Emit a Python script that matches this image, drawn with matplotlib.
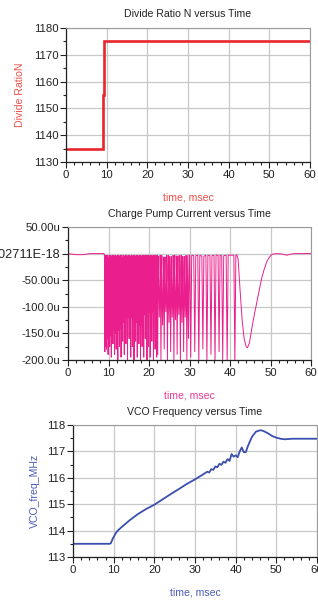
import numpy as np
import matplotlib
matplotlib.use("Agg")
import matplotlib.pyplot as plt
from matplotlib.ticker import MultipleLocator, FixedLocator

plt.rcParams['font.family'] = ['Liberation Sans', 'DejaVu Sans']

# ---------------- data ----------------
# Panel 1: divide ratio N
n_time = [0, 9.0, 9.0, 9.3, 9.3, 60]
n_ratio = [1135, 1135, 1155, 1155, 1175, 1175]

# Panel 2: charge pump current (uA) - baseline / tail pieces
cp_pre_t = [0, 1.0, 2.0, 3.5, 4.5, 5.5, 8.9]
cp_pre_i = [0, -1, -2, -2, -1, 0, 0]
cp_post_t = [41.65, 42.0, 42.5, 43.0, 43.5, 44.0, 44.3, 44.8, 45.4, 46.0, 46.6,
             47.2, 47.8, 48.5, 49.2, 49.9, 50.5, 51.5, 53.0, 54.0, 55.0, 56.0, 60.0]
cp_post_i = [-2, -10, -70, -125, -160, -175, -177, -168, -140, -115, -92,
             -68, -47, -28, -13, -5, -1, 0, -1, -3, -1, 0, 0]
# charge pump pulses: time (msec), depth (uA), level between pulses (uA)
cp_pulse_t = [9.1, 9.3, 9.5, 9.7, 9.9, 10.1, 10.3, 10.5, 10.7, 10.9, 11.1, 11.3, 11.5,
              11.7, 11.9, 12.1, 12.3, 12.5, 12.7, 12.9, 13.1, 13.3, 13.5, 13.7, 13.9,
              14.1, 14.3, 14.5, 14.7, 14.9, 15.1, 15.3, 15.5, 15.7, 15.9, 16.1, 16.3,
              16.5, 16.7, 16.9, 17.1, 17.3, 17.5, 17.7, 17.9, 18.1, 18.3, 18.5, 18.7,
              18.9, 19.1, 19.3, 19.5, 19.7, 19.9, 20.1, 20.3, 20.5, 20.7, 20.9, 21.1,
              21.3, 21.5, 21.7, 21.9,
              22.15, 22.55, 22.95, 23.35, 23.75, 24.15, 24.55, 24.95, 25.35, 25.75,
              26.15, 26.55, 26.95, 27.35, 27.75, 28.15, 28.55, 28.95, 29.35, 29.75,
              30.3, 31.3, 32.3, 33.3, 34.3, 35.3, 36.3, 37.3, 38.2, 39.3, 41.2]
cp_pulse_depth = [-185, -175, -180, -160, -190, -150, -175, -155, -195, -150, -170, -145, -190,
                  -150, -180, -140, -200, -145, -175, -140, -195, -135, -165, -130, -190,
                  -125, -170, -120, -200, -120, -160, -118, -195, -120, -175, -125, -200,
                  -125, -165, -130, -195, -135, -170, -135, -200, -135, -175, -120, -195,
                  -115, -160, -110, -200, -110, -175, -110, -195, -105, -165, -110, -200,
                  -105, -180, -110, -195,
                  -190, -120, -200, -135, -180, -110, -200, -130, -185, -120,
                  -205, -125, -190, -115, -200, -130, -185, -120, -200, -160,
                  -195, -185, -205, -180, -200, -190, -205, -185, -200, -205, -205]
cp_pulse_top = [-3, -5, -25, -3, -8, -30, -3, -12, -4, -35, -3, -6, -20,
                -3, -40, -5, -3, -15, -4, -30, -3, -8, -22, -3, -35,
                -5, -3, -40, -4, -10, -3, -30, -5, -3, -25, -6, -3,
                -35, -4, -12, -3, -40, -5, -3, -20, -4, -35, -3, -8,
                -30, -3, -15, -4, -40, -3, -10, -25, -3, -6, -35, -3,
                -20, -4, -30, -3,
                -5, -40, -3, -35, -6, -45, -3, -30, -5, -40,
                -3, -35, -4, -45, -3, -30, -5, -40, -3, -3,
                -3, -4, -3, -5, -3, -4, -3, -3, -4, -3, -3]

# Panel 3: VCO frequency (MHz)
vco_t = [0, 9.0, 9.3, 9.8, 10.5, 11.0, 12.0, 13.0, 14.0, 16.0, 18.0, 20.0, 22.0, 24.0,
         26.0, 28.0, 30.0, 32.0, 33.0, 33.5, 34.0, 34.5, 35.0, 35.5, 36.0, 36.5, 37.0,
         37.5, 38.0, 38.5, 39.0, 39.5, 40.0, 40.5, 41.0, 41.5, 42.0, 42.5, 43.0, 44.0,
         45.0, 46.0, 46.5, 47.0, 48.0, 49.0, 50.0, 51.0, 52.0, 53.0, 54.0, 60.0]
vco_f = [113.5, 113.5, 113.52, 113.7, 113.9, 114.0, 114.14, 114.27, 114.4, 114.63, 114.82,
         114.98, 115.18, 115.38, 115.57, 115.77, 115.94, 116.13, 116.23, 116.2, 116.33,
         116.3, 116.43, 116.4, 116.53, 116.49, 116.61, 116.57, 116.71, 116.64, 116.9,
         116.8, 116.85, 116.78, 117.0, 117.15, 116.97, 116.97, 117.2, 117.55, 117.75,
         117.8, 117.79, 117.76, 117.68, 117.58, 117.52, 117.48, 117.46, 117.47, 117.48, 117.48]

cp_tick_vals = [50, 0, -50, -100, -150, -200]
cp_tick_labels = ['50.00u', '-1.02711E-18', '-50.00u', '-100.0u', '-150.0u', '-200.0u']

# ---------------- build charge pump waveform ----------------
cp_t = list(cp_pre_t)
cp_i = list(cp_pre_i)
n = len(cp_pulse_t)
for k in range(n):
    gaps = []
    if k > 0:
        gaps.append(cp_pulse_t[k] - cp_pulse_t[k - 1])
    if k < n - 1:
        gaps.append(cp_pulse_t[k + 1] - cp_pulse_t[k])
    hw = min(0.25, 0.5 * min(gaps))
    cp_t += [cp_pulse_t[k] - hw, cp_pulse_t[k], cp_pulse_t[k] + hw]
    cp_i += [cp_pulse_top[k], cp_pulse_depth[k], cp_pulse_top[k]]
cp_t += cp_post_t
cp_i += cp_post_i

# ---------------- figure ----------------
W, H = 318, 601
fig = plt.figure(figsize=(W / 100, H / 100), dpi=100)

def px_axes(left, top, right, bottom):
    return fig.add_axes([left / W, 1 - bottom / H, (right - left) / W, (bottom - top) / H])

GRID = '#c8c8c8'
TICKFS = 8.2
TITLEFS = 7.6
LABELFS = 7.6

def style(ax):
    ax.grid(True, which='major', color=GRID, lw=0.9)
    ax.set_axisbelow(True)
    for s in ['top', 'right']:
        ax.spines[s].set_color('#9a9a9a')
        ax.spines[s].set_linewidth(0.8)
    for s in ['left', 'bottom']:
        ax.spines[s].set_color('#222222')
        ax.spines[s].set_linewidth(0.9)
    ax.tick_params(which='major', direction='out', length=4, width=0.8,
                   color='#222222', labelsize=TICKFS, pad=1.5, labelcolor='#222222')
    ax.tick_params(which='minor', direction='out', length=2.5, width=0.8, color='#222222')
    ax.set_xlim(0, 60)
    ax.xaxis.set_major_locator(MultipleLocator(10))
    ax.xaxis.set_minor_locator(MultipleLocator(2))

# Panel 1
ax1 = px_axes(66, 28, 310, 162)
style(ax1)
ax1.plot(n_time, n_ratio, color='#e8262c', lw=1.9, solid_joinstyle='miter')
ax1.set_ylim(1130, 1180)
ax1.yaxis.set_major_locator(MultipleLocator(10))
ax1.yaxis.set_minor_locator(MultipleLocator(5))
ax1.set_title('Divide Ratio N versus Time', fontsize=TITLEFS, pad=8, color='#222222')
ax1.set_xlabel('time, msec', fontsize=LABELFS, color='#f0504a', labelpad=9)
ax1.set_ylabel('Divide RatioN', fontsize=LABELFS, color='#f0504a', labelpad=6.5)

# Panel 2
ax2 = px_axes(68, 227, 311, 360)
style(ax2)
ax2.plot(cp_t, cp_i, color='#ea1e8c', lw=0.7, solid_joinstyle='miter')
ax2.set_ylim(-200, 50)
ax2.yaxis.set_major_locator(FixedLocator(cp_tick_vals))
ax2.yaxis.set_minor_locator(MultipleLocator(25))
ax2.set_yticklabels(cp_tick_labels)
ax2.get_yticklabels()[1].set_fontsize(9.2)
ax2.set_title('Charge Pump Current versus Time', fontsize=TITLEFS, pad=7, color='#222222')
ax2.set_xlabel('time, msec', fontsize=LABELFS, color='#ea3a98', labelpad=9)

# Panel 3
ax3 = px_axes(73, 425, 317, 557)
style(ax3)
ax3.plot(vco_t, vco_f, color='#3a4fae', lw=1.3)
ax3.set_ylim(113, 118)
ax3.yaxis.set_major_locator(MultipleLocator(1))
ax3.yaxis.set_minor_locator(MultipleLocator(0.5))
ax3.set_title('VCO Frequency versus Time', fontsize=TITLEFS, pad=7, color='#222222')
ax3.set_xlabel('time, msec', fontsize=LABELFS, color='#4a5cb8', labelpad=9)
ax3.set_ylabel('VCO_freq_MHz', fontsize=LABELFS, color='#4a5cb8', labelpad=5)

fig.savefig('out.png', dpi=100)
